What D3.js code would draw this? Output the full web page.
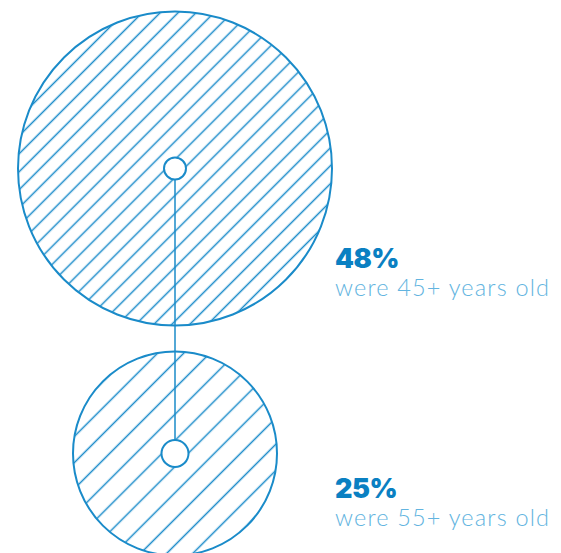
<!DOCTYPE html>
<html>
<head>
<meta charset="utf-8">
<script src="https://cdn.jsdelivr.net/npm/d3@7"></script>
<style>
  html, body { margin: 0; padding: 0; background: #fff; }
  svg { display: block; }
</style>
</head>
<body>
<div class="vis-circles"></div>
<script>
// values shown in the picture
const shares = [48, 25];
const ageLabels = ['were 45+ years old', 'were 55+ years old'];

const width = 561;
const height = 553;
const blue = '#1a8bc9';
const textBlue = '#0a80c2';
const lightBlue = '#62b4e0';

// layout per circle: center, hatch spacing, center dot
const cx = 175;
const centerY = [168.5, 453.5];
const hatchGap = [12.7, 18.5];
const dotR = [11, 13.5];
const labelY = [268, 498];

// radius from the share
const rScale = d3.scaleLinear()
  .domain([d3.min(shares), d3.max(shares)])
  .range([102, 157]);

const svg = d3.select('.vis-circles').append('svg')
  .attr('width', width)
  .attr('height', height);

const defs = svg.append('defs');

const data = shares.map((v, i) => ({
  value: v,
  label: ageLabels[i],
  cy: centerY[i],
  gap: hatchGap[i],
  dot: dotR[i],
  ly: labelY[i],
  i: i
}));

// hatch patterns, one per circle
const pat = defs.selectAll('pattern')
  .data(data)
  .enter().append('pattern')
    .attr('id', d => 'hatch' + d.i)
    .attr('patternUnits', 'userSpaceOnUse')
    .attr('width', d => d.gap)
    .attr('height', 10)
    .attr('patternTransform', d => `translate(${cx},${d.cy}) rotate(45)`);

pat.append('line')
  .attr('x1', d => d.gap / 2)
  .attr('x2', d => d.gap / 2)
  .attr('y1', 0)
  .attr('y2', 10)
  .attr('stroke', blue)
  .attr('stroke-width', 1.5);

// big hatched circles
svg.selectAll('circle.share')
  .data(data)
  .enter().append('circle')
    .attr('class', 'share')
    .attr('cx', cx)
    .attr('cy', d => d.cy)
    .attr('r', d => rScale(d.value))
    .attr('fill', d => `url(#hatch${d.i})`)
    .attr('stroke', blue)
    .attr('stroke-width', 2);

// connector between the two centers
svg.append('line')
  .attr('x1', cx)
  .attr('x2', cx)
  .attr('y1', data[0].cy)
  .attr('y2', data[1].cy)
  .attr('stroke', blue)
  .attr('stroke-width', 1.5);

// center dots
svg.selectAll('circle.dot')
  .data(data)
  .enter().append('circle')
    .attr('class', 'dot')
    .attr('cx', cx)
    .attr('cy', d => d.cy)
    .attr('r', d => d.dot)
    .attr('fill', '#fff')
    .attr('stroke', blue)
    .attr('stroke-width', 2);

// labels
const labels = svg.selectAll('g.label')
  .data(data)
  .enter().append('g')
    .attr('class', 'label')
    .attr('transform', d => `translate(335, ${d.ly})`);

labels.append('text')
  .text(d => d.value + '%')
  .attr('font-family', 'Inter, "Open Sans", sans-serif')
  .attr('font-weight', 900)
  .attr('font-size', 27)
  .attr('letter-spacing', -0.5)
  .attr('fill', textBlue);

labels.append('text')
  .text(d => d.label)
  .attr('y', 28)
  .attr('font-family', 'Lato, "Open Sans", sans-serif')
  .attr('font-weight', 300)
  .attr('font-size', 23.5)
  .attr('textLength', 214)
  .attr('lengthAdjust', 'spacing')
  .attr('fill', lightBlue);
</script>
</body>
</html>
